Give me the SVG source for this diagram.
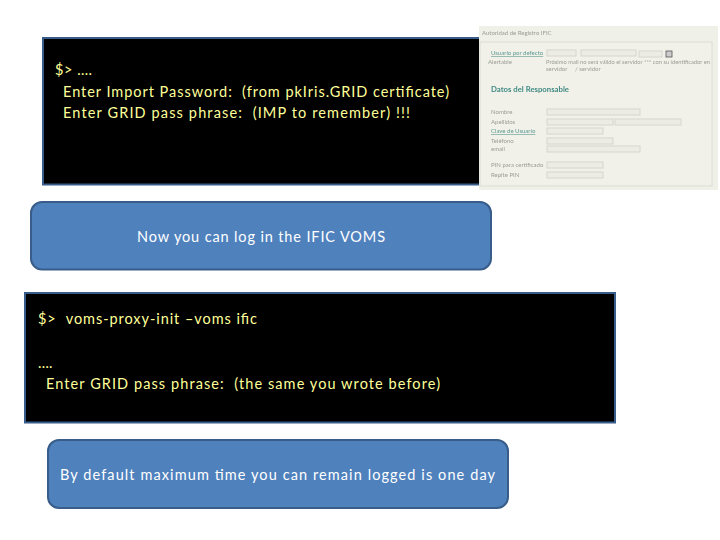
<svg xmlns="http://www.w3.org/2000/svg" width="720" height="540" viewBox="0 0 720 540">
<style>
.term{fill:#000;stroke:#385d8a;stroke-width:2}
.box{fill:#4f81bd;stroke:#385d8a;stroke-width:2}
text{font-family:"Lato","Open Sans","Liberation Sans",sans-serif;white-space:pre}
.y{fill:#ffff99;font-size:14.5px}
.w{fill:#fff;font-size:14.5px}
.f{fill:#9a9c95;font-size:6px}
.fl{fill:#ecece4;stroke:#d6d6ce;stroke-width:1}
</style>
<defs><filter id="soft" x="-5%" y="-5%" width="110%" height="110%"><feGaussianBlur stdDeviation="0.35"/></filter></defs>
<rect width="720" height="540" fill="#fff"/>
<g id="terminal-1">
<rect class="term" x="43" y="38" width="450" height="146.500"/>
<text class="y" x="55" y="75" textLength="37">$&gt; ….</text>
<text class="y" x="63" y="97" textLength="386">Enter Import Password:  (from pkIris.GRID certificate)</text>
<text class="y" x="63" y="118" textLength="347">Enter GRID pass phrase:  (IMP to remember) !!!</text>
</g>
<g id="screenshot">
<rect x="479" y="26" width="239" height="164" fill="#eff0e8"/>
<rect x="480" y="42" width="232" height="144" fill="#f1f1e9" stroke="#dcdcd4"/>
<g filter="url(#soft)">
<text class="f" x="482" y="35">Autoridad de Registro IFIC</text>
<text class="f" x="491" y="55" style="fill:#5a9a92;text-decoration:underline">Usuario por defecto</text>
<rect class="fl" x="547" y="50" width="29" height="6"/>
<rect class="fl" x="581" y="50" width="55" height="6"/>
<rect class="fl" x="639" y="51" width="23" height="6"/>
<rect x="666" y="51" width="6" height="6" fill="#ccc" stroke="#555" stroke-width=".8"/>
<text class="f" x="488" y="64">Alertable</text>
<text class="f" x="546" y="64" textLength="164" lengthAdjust="spacingAndGlyphs">Próximo mail no será válido el servidor *** con su identificador en</text>
<text class="f" x="546" y="71">servidor</text>
<text class="f" x="575" y="71">/ servidor</text>
<text x="491" y="92" style="fill:#3f8a83;font-size:7px;font-weight:bold" textLength="78" lengthAdjust="spacingAndGlyphs">Datos del Responsable</text>
<text class="f" x="491" y="114">Nombre</text>
<rect class="fl" x="547" y="109" width="93" height="6"/>
<text class="f" x="491" y="124">Apellidos</text>
<rect class="fl" x="547" y="119" width="66" height="6"/>
<rect class="fl" x="615" y="119" width="66" height="6"/>
<text class="f" x="491" y="133" style="fill:#5a9a92;text-decoration:underline">Clave de Usuario</text>
<rect class="fl" x="547" y="128" width="56" height="6"/>
<text class="f" x="491" y="143">Teléfono</text>
<rect class="fl" x="547" y="138" width="66" height="6"/>
<text class="f" x="491" y="151">email</text>
<rect class="fl" x="547" y="146" width="93" height="6"/>
<text class="f" x="491" y="167">PIN para certificado</text>
<rect class="fl" x="547" y="162" width="56" height="6"/>
<text class="f" x="491" y="177">Repite PIN</text>
<rect class="fl" x="547" y="172" width="56" height="6"/>
</g>
</g>
<g id="notice-login">
<rect class="box" x="31" y="202" width="460" height="67.500" rx="11"/>
<text class="w" x="137" y="242" textLength="248">Now you can log in the IFIC VOMS</text>
</g>
<g id="terminal-2">
<rect class="term" x="25" y="293" width="590" height="129.500"/>
<text class="y" x="38" y="324" textLength="219">$&gt;  voms-proxy-init –voms ific</text>
<text class="y" x="38" y="368">….</text>
<text class="y" x="46" y="389" textLength="394">Enter GRID pass phrase:  (the same you wrote before)</text>
</g>
<g id="notice-time">
<rect class="box" x="48" y="440" width="460" height="68" rx="11"/>
<text class="w" x="60" y="480" textLength="435">By default maximum time you can remain logged is one day</text>
</g>
<g id="connectors"/>
</svg>
